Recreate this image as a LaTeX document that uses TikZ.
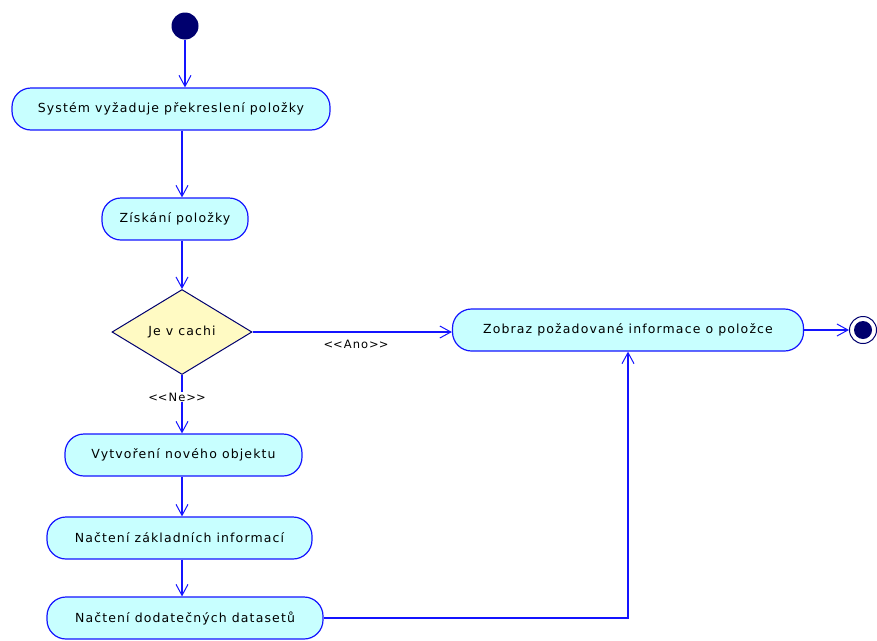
\documentclass[tikz,border=0pt]{standalone}
\usepackage{fontspec}
\setmainfont[LetterSpace=9]{DejaVu Sans}
\usetikzlibrary{shapes.geometric,arrows.meta}
\definecolor{edge}{RGB}{20,20,255}
\definecolor{actfill}{RGB}{200,255,255}
\definecolor{decfill}{RGB}{255,250,195}
\definecolor{navyc}{RGB}{0,0,110}
\tikzset{
  act/.style={draw=edge, fill=actfill, rounded corners=19pt, line width=1.2pt,
    minimum height=42pt, inner sep=0pt, font=\fontsize{12.5}{14}\selectfont},
  dec/.style={diamond, draw=navyc, fill=decfill, line width=1pt, aspect=1.65,
    minimum width=140pt, minimum height=85pt, inner sep=0pt, font=\fontsize{12.5}{14}\selectfont},
  startc/.style={circle, fill=navyc, minimum size=27pt, inner sep=0pt},
  endo/.style={circle, draw=navyc, fill=white, line width=1pt, minimum size=27pt, inner sep=0pt},
  endi/.style={circle, fill=navyc, minimum size=18pt, inner sep=0pt},
  arr/.style={draw=edge, line width=1.4pt, -{Straight Barb[length=11pt,width=12pt,line width=1pt]}},
  lbl/.style={fill=white, inner sep=1pt, font=\fontsize{11.5}{13}\selectfont}
}
\newcommand\lsym{\textless\kern0pt\textless}
\newcommand\rsym{\textgreater\kern0pt\textgreater}
\begin{document}
\begin{tikzpicture}[x=1pt,y=-1pt]
\useasboundingbox (0,0) rectangle (877,640);
\node[startc] (s) at (185,26) {};
\node[act, minimum width=318pt] (a1) at (171,109) {Systém vyžaduje překreslení položky};
\node[act, minimum width=146pt] (a2) at (175,219) {Získání položky};
\node[dec] (d) at (182,332) {Je v cachi};
\node[act, minimum width=351pt] (z) at (628,330) {Zobraz požadované informace o položce};
\node[endo] (e) at (863,330) {};
\node[endi] (ei) at (863,330) {};
\node[act, minimum width=237pt] (v) at (183.5,455) {Vytvoření nového objektu};
\node[act, minimum width=265pt] (n1) at (179.5,538) {Načtení základních informací};
\node[act, minimum width=276pt] (n2) at (185,618) {Načtení dodatečných datasetů};

\draw[arr] (s.south) -- (s.south |- a1.north);
\draw[arr] (a1.south -| d) -- (a2.north -| d);
\draw[arr] (a2.south -| d) -- (d.north);
\draw[arr] (d.east) -- (d.east -| z.west);
\draw[arr] (d.south) -- (v.north -| d);
\draw[arr] (v.south -| d) -- (n1.north -| d);
\draw[arr] (n1.south -| d) -- (n2.north -| d);
\draw[arr] (n2.east) -- (n2.east -| z) -- (z.south);
\draw[arr] (z.east) -- (e.west);

\node[lbl] (ano) at (356,344) {\lsym Ano\rsym};
\node[lbl] (ne) at (177,397) {\lsym Ne\rsym};
\end{tikzpicture}
\end{document}
